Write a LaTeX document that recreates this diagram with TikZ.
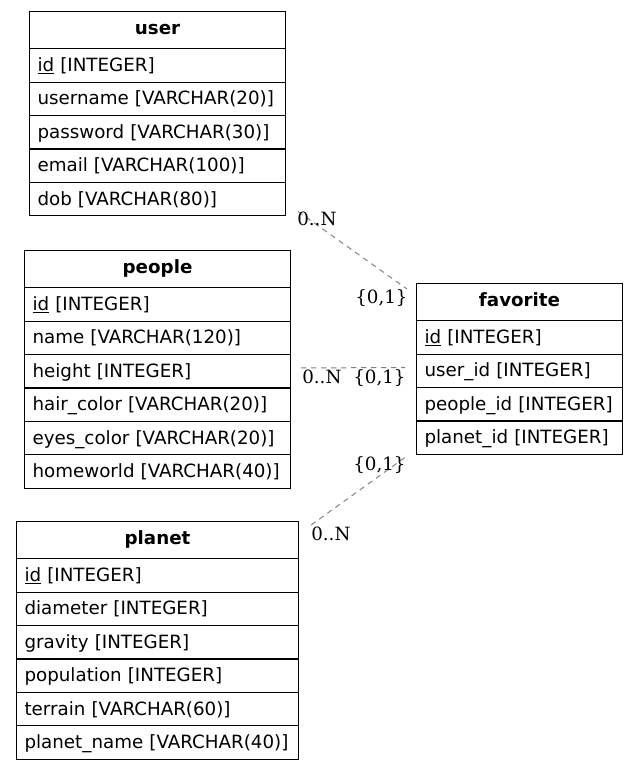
\documentclass[tikz,border=0pt]{standalone}
\usepackage{fontspec}
\setmainfont{DejaVu Sans}
\newfontfamily\cardfont{DejaVu Serif}
\usetikzlibrary{shapes.multipart}
\newcommand{\hstrut}{\rule[-10.5pt]{0pt}{27pt}}
\newcommand{\rstrut}{\rule[-7.6pt]{0pt}{24.3pt}}
\newcommand{\thead}[1]{\hfill\textbf{#1}\hfill\hstrut}
\newcommand{\key}[1]{\smash{\underline{#1}}}
\tikzset{
  table/.style={ % image of one table of the schema
    draw, line width=0.8pt, rectangle split,
    rectangle split parts=#1, anchor=north west,
    inner xsep=6pt, inner ysep=0pt, align=left,
    font=\fontsize{13.7}{16}\selectfont, text=black
  },
  rel/.style={ % a relation between two tables
    draw=gray, line width=0.75pt, dash pattern=on 4pt off 3.5pt
  },
  card/.style={ % cardinality at one end of a relation
    inner sep=0pt, anchor=base west,
    font=\cardfont\fontsize{13.7}{16}\selectfont
  }
}
\begin{document}
\begin{tikzpicture}[x=0.75pt, y=-0.75pt]
  \useasboundingbox (0,0) rectangle (639,770);

  \node[table=6, text width=180pt] (user) at (29,11) {\thead{user}
    \nodepart{two}\key{id} [INTEGER]\rstrut
    \nodepart{three}username [VARCHAR(20)]\rstrut
    \nodepart{four}password [VARCHAR(30)]\rstrut
    \nodepart{five}email [VARCHAR(100)]\rstrut
    \nodepart{six}dob [VARCHAR(80)]\rstrut};
  \node[table=7, text width=187.5pt] (people) at (24,250) {\thead{people}
    \nodepart{two}\key{id} [INTEGER]\rstrut
    \nodepart{three}name [VARCHAR(120)]\rstrut
    \nodepart{four}height [INTEGER]\rstrut
    \nodepart{five}hair\_color [VARCHAR(20)]\rstrut
    \nodepart{six}eyes\_color [VARCHAR(20)]\rstrut
    \nodepart{seven}homeworld [VARCHAR(40)]\rstrut};
  \node[table=7, text width=199.5pt] (planet) at (16,521) {\thead{planet}
    \nodepart{two}\key{id} [INTEGER]\rstrut
    \nodepart{three}diameter [INTEGER]\rstrut
    \nodepart{four}gravity [INTEGER]\rstrut
    \nodepart{five}population [INTEGER]\rstrut
    \nodepart{six}terrain [VARCHAR(60)]\rstrut
    \nodepart{seven}planet\_name [VARCHAR(40)]\rstrut};
  \node[table=5, text width=142.5pt] (favorite) at (416,283) {\thead{favorite}
    \nodepart{two}\key{id} [INTEGER]\rstrut
    \nodepart{three}user\_id [INTEGER]\rstrut
    \nodepart{four}people\_id [INTEGER]\rstrut
    \nodepart{five}planet\_id [INTEGER]\rstrut};

  \draw[rel] ([shift={(12,-5)}]user.south east) -- ([shift={(-9,6)}]favorite.north west);
  \draw[rel] ([shift={(10,-1.5)}]people.east) -- ([shift={(-11,-1.5)}]favorite.west);
  \draw[rel] ([shift={(12,4)}]planet.north east) -- ([shift={(-9,1)}]favorite.south west);

  \node[card] (user_n) at (297,225) {0..N};
  \node[card] (fav_user) at (355,303) {\{0,1\}};
  \node[card] (people_n) at (302,383) {0..N};
  \node[card] (fav_people) at (353,383) {\{0,1\}};
  \node[card] (fav_planet) at (353,470) {\{0,1\}};
  \node[card] (planet_n) at (311,540) {0..N};
\end{tikzpicture}
\end{document}
